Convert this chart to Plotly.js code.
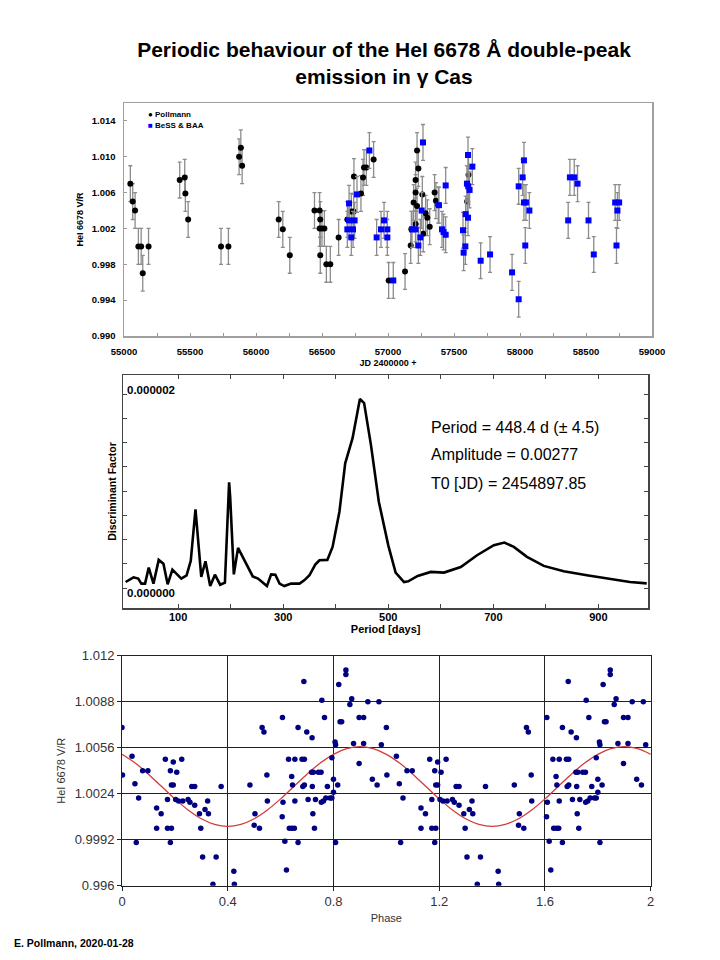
<!DOCTYPE html>
<html><head><meta charset="utf-8">
<script src="https://cdn.plot.ly/plotly-3.0.1.min.js"></script>
<style>html,body{margin:0;padding:0;background:#fff}</style>
</head><body><div id="chart" style="width:720px;height:960px"></div>
<script>
// ---------- Panel 1: V/R time series ----------
const pollJD = [55048,55066,55084,55109,55130,55142,55186,55422,55460,55465,55486,55735,55791,55872,55885,55895,
  56172,56203,56256,56443,56482,56487,56482,56500,56518,56487,56533,56563,56626,56692,56722,56740,56742,56795,56811,56818,56836,56891,
  57005,57129,57172,57177,57194,57209,57209,57209,57220,57220,57230,57260,57267,57285,57298,57316,57353,57363,57381,57600,57610];
const pollVR = [1.0070,1.0050,1.0040,1.0000,1.0000,0.9970,1.0000,1.0074,1.0077,1.0059,1.0030,1.0000,1.0000,1.0100,1.0110,1.0090,
  1.0030,1.0019,0.9990,1.0040,1.0040,1.0030,1.0020,1.0020,1.0020,0.9990,0.9980,0.9980,1.0010,1.0030,1.0039,1.0039,1.0078,1.0059,1.0077,1.0088,1.0088,1.0097,
  0.9962,0.9972,1.0001,1.0019,1.0049,1.0074,1.0060,1.0025,1.0107,1.0045,1.0087,1.0058,1.0014,1.0037,1.0032,1.0022,1.0060,1.0051,1.0046,1.0050,1.0080];
const bessJD = [56705,56705,56747,56692,56735,56722,56765,56859,56914,56947,56970,56995,56995,57040,57265,57255,57182,57209,57245,57230,
  57437,57386,57409,57421,57437,57606,57639,57598,57608,57618,57588,57606,57568,57586,57573,57702,57773,57940,57990,57990,
  58020,58030,58030,58045,58071,58040,58365,58378,58411,58436,58519,58559,58721,58751,58738,58731];
const bessVR = [1.0048,1.0029,1.0029,1.0019,1.0019,1.0010,1.0058,1.0107,1.0010,1.0019,1.0029,1.0019,1.0010,0.9962,1.0116,1.0040,1.0019,1.0019,1.0010,1.0001,
  1.0068,1.0046,1.0019,1.0016,1.0013,1.0102,1.0089,1.0070,1.0067,1.0063,1.0036,1.0032,1.0018,1.0000,0.9993,0.9984,0.9991,0.9971,0.9941,1.0067,
  1.0077,1.0096,1.0049,1.0049,1.0040,1.0001,1.0029,1.0077,1.0077,1.0070,1.0029,0.9991,1.0049,1.0049,1.0040,1.0001];
const vrError = 0.002;
const jdTickVals = [55000,55250,55500,55750,56000,56250,56500,56750,57000,57250,57500,57750,58000,58250,58500,58750,59000];
const jdTickText = ['55000','','55500','','56000','','56500','','57000','','57500','','58000','','58500','','59000'];
const vrTickVals = [0.990,0.994,0.998,1.002,1.006,1.010,1.014];
const vrTickText = ['0.990','0.994','0.998','1.002','1.006','1.010','1.014'];

// ---------- Panel 2: periodogram (discriminant factor, units of 1e-6) ----------
const periodDays = [0,15,24,30,37,44,53,63,72,80,89,106,116,124,133,144,152,161,170,180,189,197,199,206,214,228,242,252,269,277,285,293,302,315,331,340,350,361,369,384,394,407,418,432,446,454,467,482,500,514,530,538,556,581,606,638,669,701,721,739,764,796,834,878,916,960,992];
const discFactorMicro = [0.062,0.11,0.097,0.045,0.045,0.21,0.045,0.29,0.25,0.038,0.19,0.097,0.13,0.28,0.81,0.114,0.276,0.02,0.138,0.034,0.055,1.09,0.94,0.141,0.414,0.269,0.12,0.097,0.02,0.141,0.138,0.045,0.02,0.045,0.045,0.079,0.131,0.241,0.286,0.29,0.424,0.786,1.286,1.545,1.948,1.907,1.476,0.89,0.44,0.16,0.062,0.069,0.124,0.166,0.159,0.217,0.338,0.441,0.469,0.424,0.321,0.228,0.172,0.131,0.097,0.062,0.048];
const periodTickVals = [100,200,300,400,500,600,700,800,900];
const periodTickText = ['100','','300','','500','','700','','900'];
const dfTickVals = [0,0.25,0.5,0.75,1,1.25,1.5,1.75,2];
const fitText = ['Period = 448.4 d (± 4.5)','Amplitude = 0.00277','T0 [JD) = 2454897.85'];

// ---------- Panel 3: phase diagram ----------
const phase = [0.000,0.002,0.038,0.049,0.063,0.054,0.078,0.098,0.131,0.148,0.131,0.164,0.172,0.172,0.187,0.183,0.183,0.187,0.194,0.194,
  0.207,0.203,0.214,0.226,0.230,0.250,0.257,0.264,0.275,0.275,0.293,0.298,0.305,0.314,0.324,0.327,0.344,0.356,0.375,0.423,
  0.425,0.484,0.500,0.503,0.520,0.530,0.537,0.548,0.550,0.607,0.606,0.609,0.616,0.622,0.630,0.633,0.643,0.652,0.642,0.645,
  0.654,0.654,0.666,0.666,0.681,0.688,0.690,0.684,0.690,0.699,0.704,0.719,0.717,0.722,0.720,0.728,0.732,0.724,0.743,0.753,
  0.756,0.754,0.762,0.766,0.771,0.777,0.787,0.794,0.794,0.800,0.800,0.806,0.808,0.808,0.816,0.820,0.825,0.831,0.847,0.847,
  0.862,0.869,0.876,0.897,0.897,0.914,0.914,0.930,0.947,0.965,0.972,0.981];
const phaseVR = [1.0070,1.0037,1.0050,1.0031,1.0021,0.9990,1.0040,1.0040,1.0014,1.0010,1.0000,1.0048,1.0020,1.0000,1.0000,0.9990,1.0040,1.0030,1.0030,1.0046,
  1.0039,1.0020,1.0019,1.0048,1.0019,1.0020,1.0018,1.0029,1.0029,1.0016,1.0010,1.0000,0.9980,1.0013,1.0019,1.0010,0.9961,0.9980,1.0029,0.9970,
  0.9961,1.0030,1.0002,1.0010,1.0000,1.0070,1.0067,1.0037,1.0019,1.0077,1.0008,1.0018,0.9991,0.9971,1.0048,1.0000,1.0000,1.0000,1.0036,1.0030,
  1.0048,1.0019,1.0070,0.9990,1.0048,1.0102,1.0048,1.0029,1.0030,1.0067,1.0020,1.0063,1.0039,1.0010,1.0029,1.0000,1.0020,1.0039,1.0039,1.0039,
  1.0089,1.0018,1.0019,1.0077,1.0021,1.0029,1.0021,1.0049,1.0021,1.0034,1.0025,1.0060,1.0058,0.9990,1.0030,1.0100,1.0074,1.0074,1.0110,1.0107,
  1.0086,1.0090,1.0059,1.0077,1.0045,1.0077,1.0059,1.0088,1.0034,1.0030,1.0088,1.0058];
const fitPhase = [0,0.05,0.1,0.15,0.2,0.25,0.3,0.35,0.4,0.45,0.5,0.55,0.6,0.65,0.7,0.75,0.8,0.85,0.9,0.95,1.0];
const fitVR = [1.00514,1.00453,1.00376,1.00290,1.00204,1.00127,1.00066,1.00027,1.00013,1.00027,1.00066,1.00127,1.00204,1.00290,1.00376,1.00453,1.00514,1.00553,1.00567,1.00553,1.00514];
const phaseTickVals = [0,0.4,0.8,1.2,1.6,2];
const phaseTickText = ['0','0.4','0.8','1.2','1.6','2'];
const phVRTickVals = [0.996,0.9992,1.0024,1.0056,1.0088,1.012];
const phVRTickText = ['0.996','0.9992','1.0024','1.0056','1.0088','1.012'];

// ---------- layout helpers (page pixels -> paper fractions) ----------
const W = 720, H = 960;
const px = x => x / W;
const py = y => 1 - y / H;
const FONT = 'Arial, "Liberation Sans", sans-serif';

const traces = [
  {type:'scatter', mode:'markers', x: pollJD, y: pollVR, xaxis:'x', yaxis:'y', name:'Pollmann',
   marker:{symbol:'circle', size:6, color:'#000000'},
   error_y:{type:'constant', value: vrError, color:'#8c8c8c', thickness:1.3, width:2}},
  {type:'scatter', mode:'markers', x: bessJD, y: bessVR, xaxis:'x', yaxis:'y', name:'BeSS & BAA',
   marker:{symbol:'square', size:6, color:'#0000ff'},
   error_y:{type:'constant', value: vrError, color:'#8c8c8c', thickness:1.3, width:2}},
  {type:'scatter', mode:'lines', x: periodDays, y: discFactorMicro, xaxis:'x2', yaxis:'y2',
   line:{color:'#000000', width:2.6}},
  {type:'scatter', mode:'lines', x: fitPhase.concat(fitPhase.slice(1).map(p => p + 1)),
   y: fitVR.concat(fitVR.slice(1)), xaxis:'x3', yaxis:'y3',
   line:{color:'#d23c3c', width:1.3, shape:'spline'}},
  {type:'scatter', mode:'markers', x: phase.concat(phase.map(p => p + 1)), y: phaseVR.concat(phaseVR),
   xaxis:'x3', yaxis:'y3', marker:{symbol:'circle', size:5.5, color:'#000080'}}
];

const boldTick = {family: FONT, size: 9.5, color:'#000', weight:'bold'};

const layout = {
  width: W, height: H, margin:{l:0,r:0,t:0,b:0}, showlegend:false,
  paper_bgcolor:'#fff', plot_bgcolor:'#fff', font:{family: FONT},
  title:{text:'Periodic behaviour of the HeI 6678 Å double-peak<br>emission in γ Cas',
         x: px(384), xanchor:'center', y: py(57), yanchor:'middle',
         font:{family: FONT, size:21, color:'#000', weight:'bold'}},
  // panel 1
  xaxis:{domain:[px(124), px(652)], anchor:'y', range:[55000,59000], tickmode:'array',
         tickvals: jdTickVals, ticktext: jdTickText, ticks:'inside', ticklen:3, tickcolor:'#999',
         showline:true, linecolor:'#a0a0a0', linewidth:1.5, mirror:true, showgrid:false, zeroline:false,
         tickfont: boldTick, ticklabelstandoff:6,
         title:{text:'JD 2400000 +', font:{family: FONT, size:9, color:'#000', weight:'bold'}, standoff:4}},
  yaxis:{domain:[py(336), py(103)], anchor:'x', range:[0.990,1.016], tickmode:'array',
         tickvals: vrTickVals, ticktext: vrTickText, ticks:'inside', ticklen:3, tickcolor:'#999',
         showline:true, linecolor:'#a0a0a0', linewidth:1.5, mirror:true, showgrid:false, zeroline:false,
         tickfont: boldTick, ticklabelstandoff:5,
         title:{text:'HeI 6678 V/R', font:{family: FONT, size:9, color:'#000', weight:'bold'}, standoff:6}},
  // panel 2
  xaxis2:{domain:[px(123), px(648.3)], anchor:'y2', range:[-5,995], tickmode:'array',
          tickvals: periodTickVals, ticktext: periodTickText, ticks:'inside', ticklen:4, tickcolor:'#444',
          showline:true, linecolor:'#444', linewidth:1.5, mirror:'ticks', showgrid:false, zeroline:false,
          tickfont:{family: FONT, size:11, color:'#000', weight:'bold'}, ticklabelstandoff:-2,
          title:{text:'Period [days]', font:{family: FONT, size:11, color:'#000', weight:'bold'}, standoff:3}},
  yaxis2:{domain:[py(608), py(375)], anchor:'x2', range:[-0.206,2.196], tickmode:'array',
          tickvals: dfTickVals, ticktext: dfTickVals.map(() => ''), ticks:'inside', ticklen:4, tickcolor:'#444',
          showline:true, linecolor:'#444', linewidth:1.5, mirror:'ticks', showgrid:false, zeroline:false,
          title:{text:'Discriminant Factor', font:{family: FONT, size:10.5, color:'#000', weight:'bold'}, standoff:0}},
  // panel 3
  xaxis3:{domain:[px(122), px(650.7)], anchor:'y3', range:[0,2], tickmode:'array',
          tickvals: phaseTickVals, ticktext: phaseTickText, ticks:'outside', ticklen:4, tickcolor:'#222',
          showline:true, linecolor:'#222', linewidth:1, mirror:true, showgrid:true, gridcolor:'#222', gridwidth:1, zeroline:false,
          tickfont:{family: FONT, size:13, color:'#333'},
          title:{text:'Phase', font:{family: FONT, size:11, color:'#333'}, standoff:6}},
  yaxis3:{domain:[py(885.7), py(655.7)], anchor:'x3', range:[0.996,1.012], tickmode:'array',
          tickvals: phVRTickVals, ticktext: phVRTickText, ticks:'outside', ticklen:4, tickcolor:'#222',
          showline:true, linecolor:'#222', linewidth:1, mirror:true, showgrid:true, gridcolor:'#222', gridwidth:1, zeroline:false,
          tickfont:{family: FONT, size:13, color:'#333'},
          title:{text:'HeI 6678 V/R', font:{family: FONT, size:11, color:'#333'}, standoff:6}},
  annotations: [
    // panel 1 legend
    {xref:'paper', yref:'paper', x:px(146), y:py(115), xanchor:'left', yanchor:'middle', showarrow:false,
     text:'●', font:{family: FONT, size:8, color:'#000'}},
    {xref:'paper', yref:'paper', x:px(153), y:py(115), xanchor:'left', yanchor:'middle', showarrow:false,
     text:'Pollmann', font:{family: FONT, size:8, color:'#000', weight:'bold'}},
    {xref:'paper', yref:'paper', x:px(146), y:py(125), xanchor:'left', yanchor:'middle', showarrow:false,
     text:'■', font:{family: FONT, size:8, color:'#0000ff'}},
    {xref:'paper', yref:'paper', x:px(153), y:py(125), xanchor:'left', yanchor:'middle', showarrow:false,
     text:'BeSS & BAA', font:{family: FONT, size:8, color:'#000', weight:'bold'}},
    // panel 2 inside labels and fit text
    {xref:'x2 domain', yref:'y2', x:0.003, y:2.04, xanchor:'left', yanchor:'middle', showarrow:false,
     text:'0.000002', font:{family: FONT, size:11.5, color:'#000', weight:'bold'}},
    {xref:'x2 domain', yref:'y2', x:0.003, y:-0.054, xanchor:'left', yanchor:'middle', showarrow:false,
     text:'0.000000', font:{family: FONT, size:11.5, color:'#000', weight:'bold'}},
    {xref:'paper', yref:'paper', x:px(429), y:py(427), xanchor:'left', yanchor:'middle', showarrow:false,
     text: fitText[0], font:{family: FONT, size:16, color:'#000'}},
    {xref:'paper', yref:'paper', x:px(429), y:py(455), xanchor:'left', yanchor:'middle', showarrow:false,
     text: fitText[1], font:{family: FONT, size:16, color:'#000'}},
    {xref:'paper', yref:'paper', x:px(429), y:py(483), xanchor:'left', yanchor:'middle', showarrow:false,
     text: fitText[2], font:{family: FONT, size:16, color:'#000'}},
    // footer
    {xref:'paper', yref:'paper', x:px(12), y:py(943), xanchor:'left', yanchor:'middle', showarrow:false,
     text:'E. Pollmann, 2020-01-28', font:{family: FONT, size:10.5, color:'#000', weight:'bold'}}
  ]
};

Plotly.newPlot('chart', traces, layout, {staticPlot:true, displayModeBar:false});
</script>
</body></html>
